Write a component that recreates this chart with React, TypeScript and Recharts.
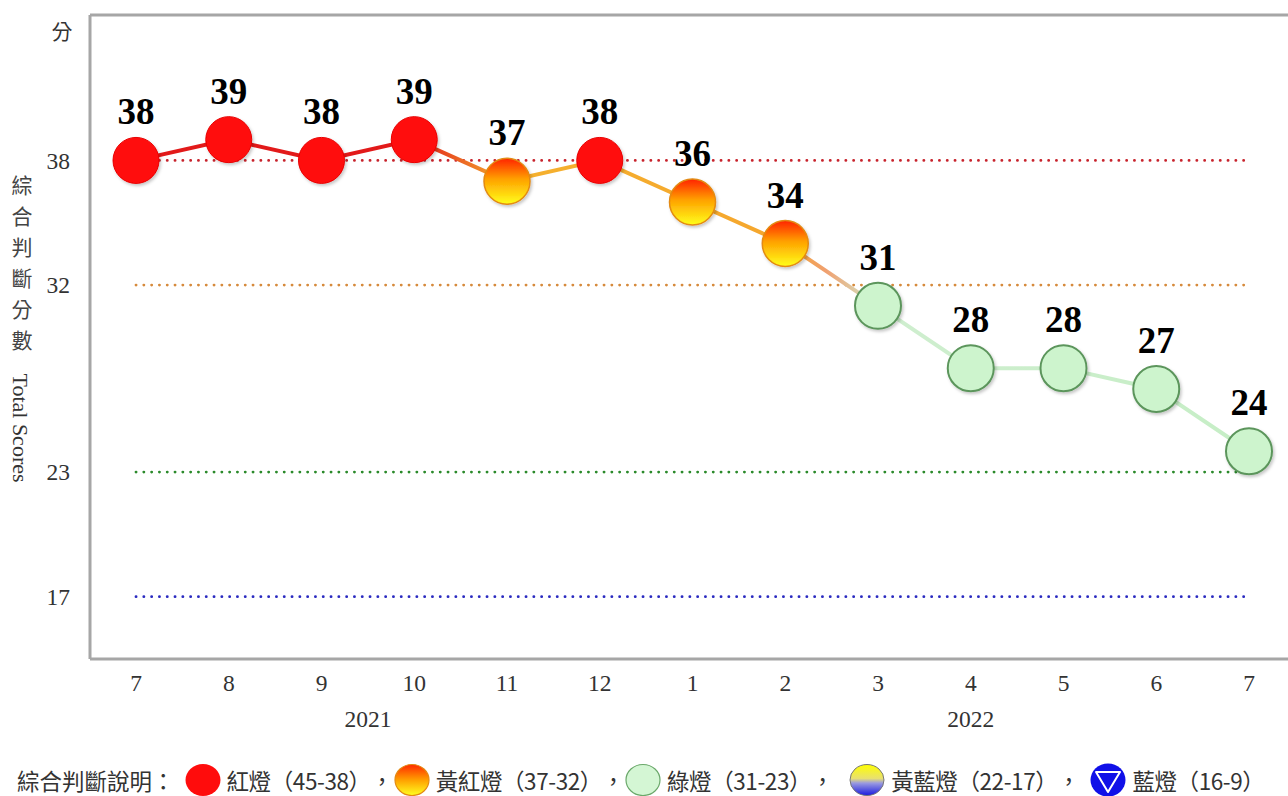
import React from "react";
import { LineChart, Line, XAxis, YAxis, ReferenceLine, LabelList, Label, Legend } from "recharts";

// ---- data ----
const periodKeys = ["2021-07", "2021-08", "2021-09", "2021-10", "2021-11", "2021-12", "2022-01", "2022-02", "2022-03", "2022-04", "2022-05", "2022-06", "2022-07"];
const monthLabels = ["7", "8", "9", "10", "11", "12", "1", "2", "3", "4", "5", "6", "7"];
const scores = [38, 39, 38, 39, 37, 38, 36, 34, 31, 28, 28, 27, 24];
const yTicks = [17, 23, 32, 38];
const yearGroups = [
  { year: "2021", first: 0, last: 5 },
  { year: "2022", first: 6, last: 12 },
];
const thresholdValues = [38, 32, 23, 17];
const thresholdColors = ["#c8232c", "#d68a3c", "#2b8a2b", "#2a2ac0"];
const titleChars = ["綜", "合", "判", "斷", "分", "數"];
const legendTitle = "綜合判斷說明：";
const legendItems = [
  { kind: "red", text: "紅燈（45-38）" },
  { kind: "yellowRed", text: "黃紅燈（37-32）" },
  { kind: "green", text: "綠燈（31-23）" },
  { kind: "yellowBlue", text: "黃藍燈（22-17）" },
  { kind: "blue", text: "藍燈（16-9）" },
];
const legendSeparatorWidths = [23, 23, 38, 33];

const data = scores.map((score, i) => ({ key: periodKeys[i], month: monthLabels[i], i, score }));
const yearTicks = yearGroups.map((g) => (g.first + g.last) / 2);
const yearByTick: Record<string, string> = {};
yearGroups.forEach((g) => (yearByTick[String((g.first + g.last) / 2)] = g.year));
const monthByKey: Record<string, string> = {};
data.forEach((d) => (monthByKey[d.key] = d.month));

const SERIF = "'Times New Roman', 'Liberation Serif', 'DejaVu Serif', serif";
const CJK = "'Noto Sans CJK TC', 'Noto Sans', sans-serif";
const FRAME = "#a6a6a6";
const TICK_SIZE = 23.5;

const lightFor = (v: number) =>
  v >= 38 ? "red" : v >= 32 ? "yellowRed" : v >= 23 ? "green" : v >= 17 ? "yellowBlue" : "blue";

const renderDot = (props: any) => {
  const { cx, cy, payload, index } = props;
  if (cx == null || cy == null) return <g key={`d${index}`} />;
  const kind = lightFor(payload.score);
  const r = 23;
  if (kind === "red")
    return <circle key={`d${index}`} cx={cx} cy={cy} r={r} fill="#ff0c0c" stroke="#e80000" strokeWidth={1} filter="url(#dotShadow)" />;
  if (kind === "yellowRed")
    return <circle key={`d${index}`} cx={cx} cy={cy} r={r} fill="url(#gradYR)" stroke="#e38a12" strokeWidth={1.5} filter="url(#dotShadow)" />;
  return <circle key={`d${index}`} cx={cx} cy={cy} r={r} fill="#cdf4cd" stroke="#5b955b" strokeWidth={2} filter="url(#dotShadow)" />;
};

const YTitle = (props: any) => {
  const vb = props.viewBox || { x: 0, y: 15, width: 90, height: 644 };
  const left = vb.x ?? 0;
  const top = vb.y ?? 15;
  return (
    <g>
      <text x={left + 62} y={top + 15} textAnchor="middle" dominantBaseline="central" fontSize={21} fill="#333" fontFamily={CJK}>
        分
      </text>
      {titleChars.map((c, k) => (
        <text key={k} x={left + 22} y={top + 169 + 31 * k} textAnchor="middle" dominantBaseline="central" fontSize={21} fill="#444" fontFamily={CJK}>
          {c}
        </text>
      ))}
      <text
        transform={`translate(${left + 20}, ${top + 413}) rotate(90)`}
        textAnchor="middle"
        dominantBaseline="central"
        fontSize={22}
        fill="#333"
        fontFamily={SERIF}
      >
        Total Scores
      </text>
    </g>
  );
};

const LegendIcon = ({ kind }: { kind: string }) => {
  return (
    <svg width={36} height={34} viewBox="0 0 36 34" style={{ display: "block" }}>
      <defs>
        <linearGradient id="lgYR" x1="0" y1="0" x2="0" y2="1">
          <stop offset="0" stopColor="#ff2a00" />
          <stop offset="0.5" stopColor="#ffa000" />
          <stop offset="1" stopColor="#ffff20" />
        </linearGradient>
        <linearGradient id="lgYB" x1="0" y1="0" x2="0" y2="1">
          <stop offset="0" stopColor="#ffff00" />
          <stop offset="0.45" stopColor="#e8e070" />
          <stop offset="0.6" stopColor="#9a9ae0" />
          <stop offset="1" stopColor="#1a1ae0" />
        </linearGradient>
      </defs>
      {kind === "red" && <ellipse cx={18} cy={17} rx={17.5} ry={16} fill="#ff0c0c" />}
      {kind === "yellowRed" && <ellipse cx={18} cy={17} rx={17} ry={15.5} fill="url(#lgYR)" stroke="#e38a12" strokeWidth={1.2} />}
      {kind === "green" && <ellipse cx={18} cy={17} rx={17} ry={15.5} fill="#d4f6d4" stroke="#6aa86a" strokeWidth={1.2} />}
      {kind === "yellowBlue" && <ellipse cx={18} cy={17} rx={17} ry={15.5} fill="url(#lgYB)" stroke="#777" strokeWidth={1} />}
      {kind === "blue" && (
        <g>
          <ellipse cx={18} cy={17} rx={17.5} ry={16.5} fill="#1010e8" />
          <path d="M6 9 L30 9 L18 29 Z" fill="none" stroke="#fff" strokeWidth={2} strokeLinejoin="round" />
        </g>
      )}
    </svg>
  );
};

const LegendContent = () => (
  <div
    style={{
      display: "flex",
      alignItems: "center",
      height: 40,
      fontFamily: CJK,
      fontSize: 22.5,
      color: "#333",
      whiteSpace: "nowrap",
      paddingLeft: 17,
    }}
  >
    <span style={{ marginRight: 10, flexShrink: 0 }}>{legendTitle}</span>
    {legendItems.map((it, k) => (
      <React.Fragment key={it.kind}>
        <span style={{ marginRight: 6, flexShrink: 0 }}>
          <LegendIcon kind={it.kind} />
        </span>
        <span style={{ flexShrink: 0, letterSpacing: -0.4 }}>{it.text}</span>
        {k < legendItems.length - 1 && (
          <span style={{ display: "inline-block", flexShrink: 0, width: legendSeparatorWidths[k] }}>，</span>
        )}
      </React.Fragment>
    ))}
  </div>
);

export default function App() {
  return (
    <div style={{ position: "absolute", left: 0, top: 0, width: 1288, height: 796, overflow: "hidden", background: "#fff" }}>
      <LineChart width={1300} height={796} data={data} margin={{ top: 14, right: 0, left: 0, bottom: 27 }}>
        <defs>
          <linearGradient id="gradYR" x1="0" y1="0" x2="0" y2="1">
            <stop offset="0" stopColor="#ff2200" />
            <stop offset="0.45" stopColor="#ffa000" />
            <stop offset="1" stopColor="#ffff1a" />
          </linearGradient>
          <linearGradient id="lineGrad" x1="0" y1="0" x2="1" y2="0">
            <stop offset="0" stopColor="#e21a1a" />
            <stop offset="0.25" stopColor="#e21a1a" />
            <stop offset="0.333" stopColor="#f5b12e" />
            <stop offset="0.583" stopColor="#f5a62e" />
            <stop offset="0.62" stopColor="#f0a070" />
            <stop offset="0.667" stopColor="#cfeecf" />
            <stop offset="1" stopColor="#c6eec6" />
          </linearGradient>
          <filter id="dotShadow" x="-50%" y="-50%" width="200%" height="200%">
            <feDropShadow dx="1.5" dy="2" stdDeviation="1.5" floodColor="#000" floodOpacity="0.22" />
          </filter>
        </defs>

        <XAxis
          dataKey="key"
          xAxisId="m"
          height={30}
          padding={{ left: 46, right: 51 }}
          axisLine={{ stroke: FRAME, strokeWidth: 3 }}
          tickLine={false}
          tickSize={0}
          tickMargin={15}
          interval={0}
          tickFormatter={(v: string) => monthByKey[v]}
          tick={{ fill: "#333", fontSize: TICK_SIZE, fontFamily: SERIF }}
        />
        <XAxis
          xAxisId="year"
          dataKey="i"
          type="number"
          domain={[0, 12]}
          ticks={yearTicks}
          height={40}
          padding={{ left: 46, right: 51 }}
          axisLine={false}
          tickLine={false}
          tickSize={0}
          tickMargin={21}
          tickFormatter={(v: number) => yearByTick[String(v)] ?? ""}
          tick={{ fill: "#333", fontSize: TICK_SIZE, fontFamily: SERIF }}
        />
        <XAxis
          xAxisId="top"
          dataKey="key"
          orientation="top"
          height={1}
          tick={false}
          tickLine={false}
          axisLine={{ stroke: FRAME, strokeWidth: 3 }}
          padding={{ left: 46, right: 51 }}
        />
        <YAxis
          domain={[14, 45]}
          ticks={yTicks}
          width={90}
          axisLine={{ stroke: FRAME, strokeWidth: 3 }}
          tickLine={false}
          tickSize={0}
          tickMargin={20}
          tick={{ fill: "#333", fontSize: TICK_SIZE, fontFamily: SERIF }}
          allowDataOverflow
        >
          <Label content={YTitle} />
        </YAxis>

        {thresholdValues.map((v, k) => (
          <ReferenceLine
            key={v}
            xAxisId="m"
            segment={[
              { x: periodKeys[0], y: v },
              { x: periodKeys[periodKeys.length - 1], y: v },
            ]}
            stroke={thresholdColors[k]}
            strokeWidth={2.8}
            strokeDasharray="0.1 7.7"
            strokeLinecap="round"
            ifOverflow="visible"
          />
        ))}

        <Line
          xAxisId="m"
          type="linear"
          dataKey="score"
          stroke="url(#lineGrad)"
          strokeWidth={4}
          dot={renderDot}
          activeDot={false}
          isAnimationActive={false}
        >
          <LabelList
            dataKey="score"
            position="top"
            offset={36}
            fill="#000"
            fontSize={37}
            fontWeight="bold"
            fontFamily={SERIF}
          />
        </Line>

        <Legend
          verticalAlign="bottom"
          content={<LegendContent />}
          wrapperStyle={{ top: 760, left: 0, bottom: "auto", width: 1288, height: 40 }}
        />
      </LineChart>
    </div>
  );
}
